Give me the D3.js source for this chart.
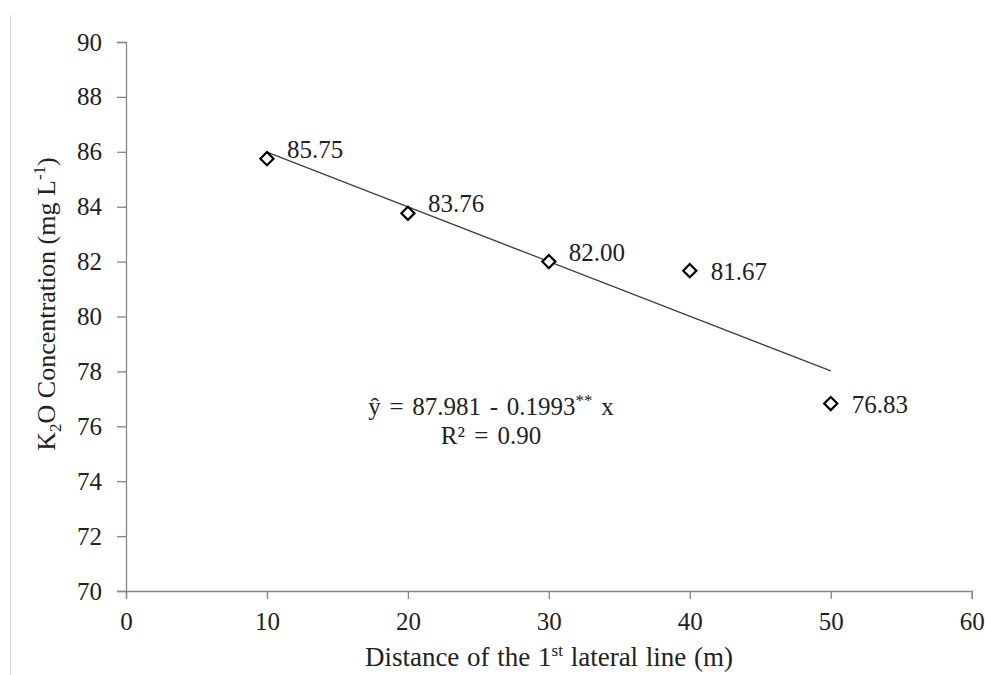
<!DOCTYPE html>
<html>
<head>
<meta charset="utf-8">
<script src="https://cdn.jsdelivr.net/npm/d3@7"></script>
<style>
  body { margin: 0; background: #fff; }
</style>
</head>
<body>
<script>
// data
const distances = [10, 20, 30, 40, 50];
const k2o = [85.75, 83.76, 82.00, 81.67, 76.83];
const labelSide = ["above", "above", "above", "right", "right"];
const xTicks = [0, 10, 20, 30, 40, 50, 60];
const yTicks = [70, 72, 74, 76, 78, 80, 82, 84, 86, 88, 90];
const intercept = 87.981;
const slope = -0.1993;

const w = 985, h = 675;
const plotLeft = 126, plotRight = 971.7, plotTop = 42, plotBottom = 591;
const axisColor = "#868686";
const fontSize = 25;
const serif = "'Liberation Serif', 'Times New Roman', serif";

const svg = d3.select("body").append("svg")
  .attr("width", w)
  .attr("height", h);

// faint frame line on the left
svg.append("line")
  .attr("x1", 10.5).attr("x2", 10.5)
  .attr("y1", 15).attr("y2", h)
  .attr("stroke", "#d9d9d9").attr("stroke-width", 1);

const x = d3.scaleLinear().domain([0, 60]).range([plotLeft, plotRight]);
const y = d3.scaleLinear().domain([70, 90]).range([plotBottom, plotTop]);

const xAxis = d3.axisBottom(x).tickValues(xTicks).tickSize(8).tickPadding(13).tickFormat(d3.format("d"));
const yAxis = d3.axisLeft(y).tickValues(yTicks).tickSize(9).tickPadding(15).tickFormat(d3.format("d"));

const gx = svg.append("g").attr("transform", "translate(0," + plotBottom + ")").call(xAxis);
const gy = svg.append("g").attr("transform", "translate(" + plotLeft + ",0)").call(yAxis);

[gx, gy].forEach(g => {
  g.select(".domain").attr("stroke", axisColor).attr("stroke-width", 1.3);
  g.selectAll(".tick line").attr("stroke", axisColor).attr("stroke-width", 1.3);
  g.selectAll(".tick text")
    .style("font-size", fontSize + "px")
    .style("font-family", serif)
    .attr("fill", "#222");
});

// trend line
svg.append("line")
  .attr("x1", x(distances[0])).attr("y1", y(intercept + slope * distances[0]))
  .attr("x2", x(distances[distances.length - 1])).attr("y2", y(intercept + slope * distances[distances.length - 1]))
  .attr("stroke", "#404040").attr("stroke-width", 1.3);

const points = distances.map((d, i) => ({ x: d, y: k2o[i], side: labelSide[i] }));

// diamond markers
svg.selectAll("path.pt").data(points).enter()
  .append("path")
  .attr("class", "pt")
  .attr("d", d3.symbol().type(d3.symbolDiamond2).size(110))
  .attr("transform", d => "translate(" + x(d.x) + "," + y(d.y) + ")")
  .attr("fill", "#fff")
  .attr("stroke", "#000")
  .attr("stroke-width", 2.2);

// value labels
svg.selectAll("text.lbl").data(points).enter()
  .append("text")
  .attr("class", "lbl")
  .attr("x", d => x(d.x) + (d.side === "above" ? 20 : 21))
  .attr("y", d => y(d.y) + (d.side === "above" ? -1 : 9))
  .style("font-size", fontSize + "px")
  .style("font-family", serif)
  .attr("fill", "#222")
  .text(d => d.y.toFixed(2));

function textAt(xp, yp, anchor, size) {
  return svg.append("text")
    .attr("x", xp).attr("y", yp)
    .attr("text-anchor", anchor)
    .style("font-size", size + "px")
    .style("font-family", serif)
    .attr("fill", "#222");
}

// equation
const eq = textAt(491, 415, "middle", fontSize).style("word-spacing", "2.5px");
eq.append("tspan").text("ŷ = " + intercept.toFixed(3) + "  - " + Math.abs(slope).toFixed(4));
eq.append("tspan").attr("dy", -9).style("font-size", "17px").text("**");
eq.append("tspan").attr("dy", 9).text("  x");

textAt(491, 444, "middle", fontSize).style("word-spacing", "3px").text("R² = 0.90");

// x axis title
const xt = textAt(549, 666, "middle", 27).style("word-spacing", "1px");
xt.append("tspan").text("Distance of the 1");
xt.append("tspan").attr("dy", -10).style("font-size", "17px").text("st");
xt.append("tspan").attr("dy", 10).text(" lateral line (m)");

// y axis title
const yt = textAt(0, 0, "middle", 26).attr("transform", "translate(55,304) rotate(-90)");
yt.append("tspan").text("K");
yt.append("tspan").attr("dy", 6).style("font-size", "17px").text("2");
yt.append("tspan").attr("dy", -6).text("O Concentration (mg L");
yt.append("tspan").attr("dy", -10).style("font-size", "17px").text("-1");
yt.append("tspan").attr("dy", 10).text(")");
</script>
</body>
</html>
